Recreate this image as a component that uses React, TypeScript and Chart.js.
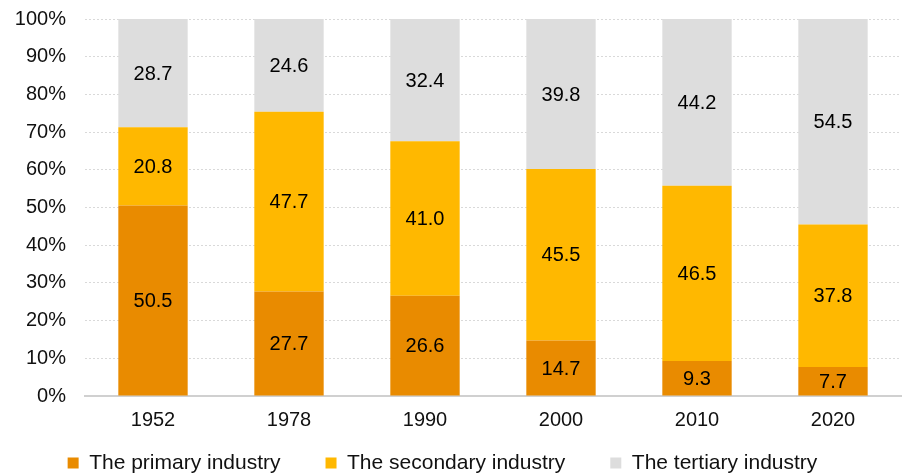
import React, { useEffect, useRef } from "react";
import { Chart, registerables } from "chart.js";

Chart.register(...registerables);

const categories = ["1952", "1978", "1990", "2000", "2010", "2020"];
const primary = [50.5, 27.7, 26.6, 14.7, 9.3, 7.7];
const secondary = [20.8, 47.7, 41.0, 45.5, 46.5, 37.8];
const tertiary = [28.7, 24.6, 32.4, 39.8, 44.2, 54.5];
const seriesNames = ["The primary industry", "The secondary industry", "The tertiary industry"];
const colors = ["#E98B00", "#FFB800", "#DDDDDD"];

const FONT = "'Liberation Sans', Arial, sans-serif";
const FS = 20;

const labelPlugin = {
  id: "segLabels",
  afterDatasetsDraw(chart: any) {
    const ctx = chart.ctx;
    ctx.save();
    ctx.font = `${FS}px ${FONT}`;
    ctx.fillStyle = "#000000";
    ctx.textAlign = "center";
    ctx.textBaseline = "middle";
    chart.data.datasets.forEach((ds: any, i: number) => {
      const meta = chart.getDatasetMeta(i);
      meta.data.forEach((el: any, j: number) => {
        const v = ds.data[j];
        const y = (el.y + el.base) / 2;
        ctx.fillText(Number(v).toFixed(1), el.x, y + 1);
      });
    });
    ctx.restore();
  },
};

const legendSizePlugin = {
  id: "legendSize",
  afterInit(chart: any) {
    const lg = chart.legend;
    if (!lg) return;
    const orig = lg.fit.bind(lg);
    lg.fit = function () {
      orig();
      this.height = 45;
    };
  },
  afterLayout(chart: any) {
    const lg = chart.legend;
    if (!lg) return;
    lg.top -= 22.5;
    lg.height = lg.bottom - lg.top;
    lg.left -= 8;
    lg.right -= 8;
  },
};

export default function App() {
  const ref = useRef<HTMLCanvasElement>(null);
  useEffect(() => {
    document.body.style.margin = "0";
    const chart = new Chart(ref.current!, {
      type: "bar",
      data: {
        labels: categories,
        datasets: [primary, secondary, tertiary].map((d, i) => ({
          label: seriesNames[i],
          data: d,
          backgroundColor: colors[i],
          borderWidth: 0,
          categoryPercentage: 1,
          barPercentage: 0.51,
        })),
      },
      options: {
        animation: false,
        responsive: false,
        maintainAspectRatio: false,
        layout: { padding: { left: 0, right: 6, top: 19, bottom: 0 } },
        plugins: {
          tooltip: { enabled: false },
          legend: {
            position: "bottom",
            labels: {
              boxWidth: 11,
              boxHeight: 11,
              padding: 45,
              color: "#111111",
              font: { size: 21, family: FONT },
            },
          },
        },
        scales: {
          x: {
            stacked: true,
            grid: { display: false, drawTicks: false },
            afterFit(scale: any) {
              scale.height = 34;
              scale.paddingTop = 0;
              scale.paddingBottom = 0;
            },
            border: { display: true, color: "#D0D0D0", width: 2 },
            ticks: { color: "#111111", font: { size: FS, family: FONT }, padding: 12, autoSkip: false },
          },
          y: {
            stacked: true,
            min: 0,
            max: 100,
            afterFit(scale: any) {
              scale.width = 85;
              scale.paddingTop = 0;
              scale.paddingBottom = 0;
            },
            border: { display: false, dash: [2, 2] },
            grid: { color: "#D9D9D9", drawTicks: false, lineWidth: 1 },
            ticks: {
              stepSize: 10,
              color: "#111111",
              font: { size: FS, family: FONT },
              padding: 19,
              callback: (v: any) => v + "%",
            },
          },
        },
      },
      plugins: [labelPlugin, legendSizePlugin],
    });
    return () => chart.destroy();
  }, []);
  return <canvas ref={ref} width={907} height={475} style={{ display: "block" }} />;
}
